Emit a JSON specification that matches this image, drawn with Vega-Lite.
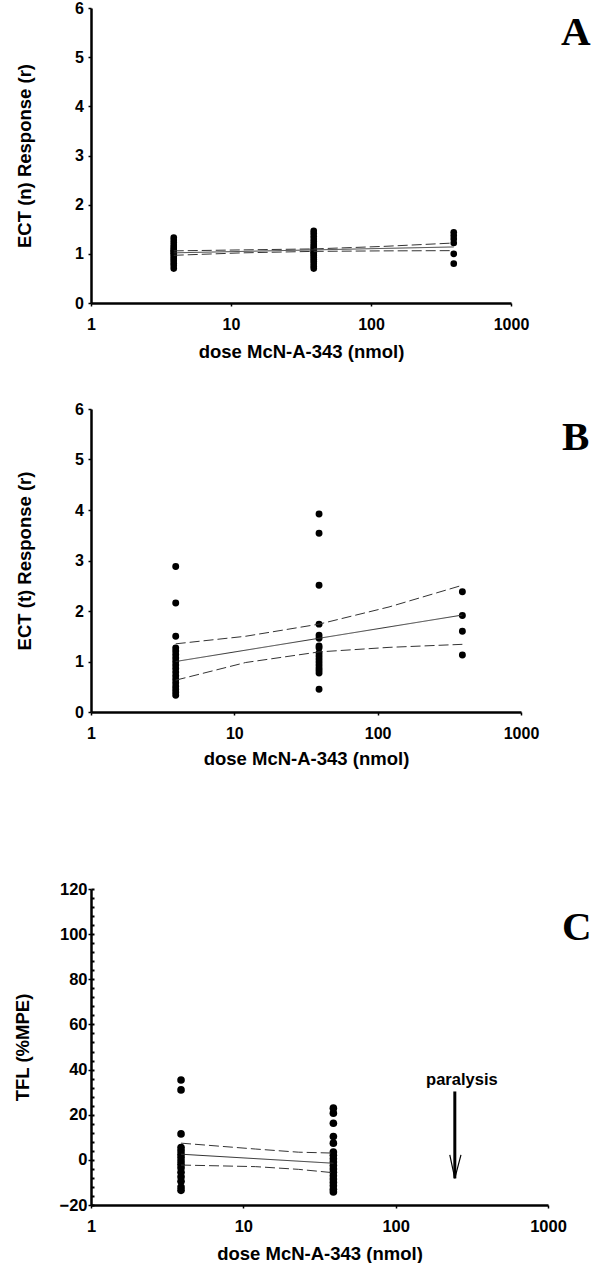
{
  "$schema": "https://vega.github.io/schema/vega-lite/v6.json",
  "padding": {"left": 13, "top": 0, "right": 0, "bottom": 0},
  "columns": 1,
  "spacing": 113,
  "align": "none",
  "concat": [
    {
      "columns": 1,
      "spacing": 40,
      "align": "none",
      "concat": [
        {
          "width": 420,
          "height": 295,
          "layer": [
            {
              "data": {"values": [
                {"dose": 3.9, "r": 0.70}, {"dose": 3.9, "r": 0.76}, {"dose": 3.9, "r": 0.81}, {"dose": 3.9, "r": 0.86},
                {"dose": 3.9, "r": 0.90}, {"dose": 3.9, "r": 0.94}, {"dose": 3.9, "r": 0.98}, {"dose": 3.9, "r": 1.01},
                {"dose": 3.9, "r": 1.04}, {"dose": 3.9, "r": 1.07}, {"dose": 3.9, "r": 1.10}, {"dose": 3.9, "r": 1.14},
                {"dose": 3.9, "r": 1.18}, {"dose": 3.9, "r": 1.23}, {"dose": 3.9, "r": 1.28}, {"dose": 3.9, "r": 1.33},
                {"dose": 39, "r": 0.70}, {"dose": 39, "r": 0.75}, {"dose": 39, "r": 0.80}, {"dose": 39, "r": 0.85},
                {"dose": 39, "r": 0.89}, {"dose": 39, "r": 0.93}, {"dose": 39, "r": 0.97}, {"dose": 39, "r": 1.00},
                {"dose": 39, "r": 1.03}, {"dose": 39, "r": 1.06}, {"dose": 39, "r": 1.09}, {"dose": 39, "r": 1.12},
                {"dose": 39, "r": 1.16}, {"dose": 39, "r": 1.20}, {"dose": 39, "r": 1.25}, {"dose": 39, "r": 1.30},
                {"dose": 39, "r": 1.36}, {"dose": 39, "r": 1.42}, {"dose": 39, "r": 1.47},
                {"dose": 390, "r": 0.80}, {"dose": 390, "r": 1.00}, {"dose": 390, "r": 1.22}, {"dose": 390, "r": 1.30},
                {"dose": 390, "r": 1.37}, {"dose": 390, "r": 1.44}
              ]},
              "mark": {"type": "circle", "size": 44, "color": "#000", "opacity": 1},
              "encoding": {
                "x": {"field": "dose", "type": "quantitative", "title": "dose McN-A-343 (nmol)",
                  "scale": {"type": "log", "domain": [1, 1000], "nice": false},
                  "axis": {"values": [1, 10, 100, 1000], "format": "d", "labelPadding": 10, "titlePadding": 10}},
                "y": {"field": "r", "type": "quantitative", "title": "ECT (n) Response (r)",
                  "scale": {"domain": [0, 6], "nice": false, "zero": false},
                  "axis": {"values": [0, 1, 2, 3, 4, 5, 6], "labelPadding": 4.5, "titlePadding": 40}}
              }
            },
            {
              "data": {"values": [
                {"curve": "fit", "kind": "fit", "dose": 3.9, "r": 1.02}, {"curve": "fit", "kind": "fit", "dose": 390, "r": 1.14},
                {"curve": "upper", "kind": "ci", "dose": 3.9, "r": 1.06}, {"curve": "upper", "kind": "ci", "dose": 12, "r": 1.08},
                {"curve": "upper", "kind": "ci", "dose": 39, "r": 1.10}, {"curve": "upper", "kind": "ci", "dose": 120, "r": 1.15},
                {"curve": "upper", "kind": "ci", "dose": 390, "r": 1.22},
                {"curve": "lower", "kind": "ci", "dose": 3.9, "r": 0.97}, {"curve": "lower", "kind": "ci", "dose": 12, "r": 1.02},
                {"curve": "lower", "kind": "ci", "dose": 39, "r": 1.05}, {"curve": "lower", "kind": "ci", "dose": 120, "r": 1.06},
                {"curve": "lower", "kind": "ci", "dose": 390, "r": 1.065}
              ]},
              "mark": {"type": "line", "strokeWidth": 1, "color": "#333"},
              "encoding": {
                "x": {"field": "dose", "type": "quantitative", "title": "dose McN-A-343 (nmol)", "scale": {"type": "log", "domain": [1, 1000], "nice": false}},
                "y": {"field": "r", "type": "quantitative", "title": "ECT (n) Response (r)", "scale": {"domain": [0, 6], "nice": false, "zero": false}},
                "detail": {"field": "curve"},
                "strokeDash": {"field": "kind", "type": "nominal", "scale": {"domain": ["fit", "ci"], "range": [[1, 0], [10, 4]]}, "legend": null}
              }
            },
            {
              "data": {"values": [{"dose": 2904, "r": 5.25, "label": "A"}]},
              "mark": {"type": "text", "font": "Liberation Serif", "fontWeight": "bold", "fontSize": 41, "align": "center", "baseline": "alphabetic", "color": "#000"},
              "encoding": {
                "x": {"field": "dose", "type": "quantitative", "title": "dose McN-A-343 (nmol)", "scale": {"type": "log", "domain": [1, 1000], "nice": false}},
                "y": {"field": "r", "type": "quantitative", "title": "ECT (n) Response (r)", "scale": {"domain": [0, 6], "nice": false, "zero": false}},
                "text": {"field": "label"}
              }
            }
          ]
        },
        {
          "width": 430,
          "height": 303,
          "layer": [
            {
              "data": {"values": [
                {"dose": 3.9, "r": 2.88}, {"dose": 3.9, "r": 2.16}, {"dose": 3.9, "r": 1.50}, {"dose": 3.9, "r": 1.27},
                {"dose": 3.9, "r": 1.21}, {"dose": 3.9, "r": 1.14}, {"dose": 3.9, "r": 1.07}, {"dose": 3.9, "r": 1.00},
                {"dose": 3.9, "r": 0.93}, {"dose": 3.9, "r": 0.86}, {"dose": 3.9, "r": 0.79}, {"dose": 3.9, "r": 0.72},
                {"dose": 3.9, "r": 0.65}, {"dose": 3.9, "r": 0.58}, {"dose": 3.9, "r": 0.51}, {"dose": 3.9, "r": 0.45},
                {"dose": 3.9, "r": 0.39}, {"dose": 3.9, "r": 0.33},
                {"dose": 39, "r": 3.92}, {"dose": 39, "r": 3.54}, {"dose": 39, "r": 2.51}, {"dose": 39, "r": 1.74},
                {"dose": 39, "r": 1.52}, {"dose": 39, "r": 1.46}, {"dose": 39, "r": 1.31}, {"dose": 39, "r": 1.27},
                {"dose": 39, "r": 1.17}, {"dose": 39, "r": 1.11}, {"dose": 39, "r": 1.05}, {"dose": 39, "r": 0.99},
                {"dose": 39, "r": 0.93}, {"dose": 39, "r": 0.87}, {"dose": 39, "r": 0.82}, {"dose": 39, "r": 0.77},
                {"dose": 39, "r": 0.45},
                {"dose": 390, "r": 2.38}, {"dose": 390, "r": 1.91}, {"dose": 390, "r": 1.60}, {"dose": 390, "r": 1.13}
              ]},
              "mark": {"type": "circle", "size": 48, "color": "#000", "opacity": 1},
              "encoding": {
                "x": {"field": "dose", "type": "quantitative", "title": "dose McN-A-343 (nmol)",
                  "scale": {"type": "log", "domain": [1, 1000], "nice": false},
                  "axis": {"values": [1, 10, 100, 1000], "format": "d", "labelPadding": 10, "titlePadding": 8}},
                "y": {"field": "r", "type": "quantitative", "title": "ECT (t) Response (r)",
                  "scale": {"domain": [0, 6], "nice": false, "zero": false},
                  "axis": {"values": [0, 1, 2, 3, 4, 5, 6], "labelPadding": 4.5, "titlePadding": 40}}
              }
            },
            {
              "data": {"values": [
                {"curve": "fit", "kind": "fit", "dose": 3.9, "r": 1.0}, {"curve": "fit", "kind": "fit", "dose": 390, "r": 1.92},
                {"curve": "upper", "kind": "ci", "dose": 3.9, "r": 1.35}, {"curve": "upper", "kind": "ci", "dose": 12, "r": 1.50},
                {"curve": "upper", "kind": "ci", "dose": 39, "r": 1.74}, {"curve": "upper", "kind": "ci", "dose": 120, "r": 2.08},
                {"curve": "upper", "kind": "ci", "dose": 390, "r": 2.51},
                {"curve": "lower", "kind": "ci", "dose": 3.9, "r": 0.63}, {"curve": "lower", "kind": "ci", "dose": 12, "r": 0.98},
                {"curve": "lower", "kind": "ci", "dose": 39, "r": 1.19}, {"curve": "lower", "kind": "ci", "dose": 120, "r": 1.28},
                {"curve": "lower", "kind": "ci", "dose": 390, "r": 1.34}
              ]},
              "mark": {"type": "line", "strokeWidth": 1, "color": "#333"},
              "encoding": {
                "x": {"field": "dose", "type": "quantitative", "title": "dose McN-A-343 (nmol)", "scale": {"type": "log", "domain": [1, 1000], "nice": false}},
                "y": {"field": "r", "type": "quantitative", "title": "ECT (t) Response (r)", "scale": {"domain": [0, 6], "nice": false, "zero": false}},
                "detail": {"field": "curve"},
                "strokeDash": {"field": "kind", "type": "nominal", "scale": {"domain": ["fit", "ci"], "range": [[1, 0], [12, 5]]}, "legend": null}
              }
            },
            {
              "data": {"values": [{"dose": 2410, "r": 5.19, "label": "B"}]},
              "mark": {"type": "text", "font": "Liberation Serif", "fontWeight": "bold", "fontSize": 41, "align": "center", "baseline": "alphabetic", "color": "#000"},
              "encoding": {
                "x": {"field": "dose", "type": "quantitative", "title": "dose McN-A-343 (nmol)", "scale": {"type": "log", "domain": [1, 1000], "nice": false}},
                "y": {"field": "r", "type": "quantitative", "title": "ECT (t) Response (r)", "scale": {"domain": [0, 6], "nice": false, "zero": false}},
                "text": {"field": "label"}
              }
            }
          ]
        }
      ]
    },
    {
      "width": 457,
      "height": 316,
      "resolve": {"axis": {"y": "independent"}},
      "layer": [
        {
          "data": {"values": [
            {"dose": 3.9, "mpe": 35.4}, {"dose": 3.9, "mpe": 31.0}, {"dose": 3.9, "mpe": 11.5}, {"dose": 3.9, "mpe": 5.5},
            {"dose": 3.9, "mpe": 4.0}, {"dose": 3.9, "mpe": 2.5}, {"dose": 3.9, "mpe": 1.0}, {"dose": 3.9, "mpe": -0.5},
            {"dose": 3.9, "mpe": -2.0}, {"dose": 3.9, "mpe": -3.5}, {"dose": 3.9, "mpe": -5.5}, {"dose": 3.9, "mpe": -7.5},
            {"dose": 3.9, "mpe": -9.5}, {"dose": 3.9, "mpe": -12.0}, {"dose": 3.9, "mpe": -13.5},
            {"dose": 39, "mpe": 22.9}, {"dose": 39, "mpe": 20.7}, {"dose": 39, "mpe": 16.2}, {"dose": 39, "mpe": 10.3},
            {"dose": 39, "mpe": 7.4}, {"dose": 39, "mpe": 3.5}, {"dose": 39, "mpe": 2.0}, {"dose": 39, "mpe": 0.5},
            {"dose": 39, "mpe": -1.0}, {"dose": 39, "mpe": -2.5}, {"dose": 39, "mpe": -4.0}, {"dose": 39, "mpe": -5.5},
            {"dose": 39, "mpe": -7.0}, {"dose": 39, "mpe": -8.5}, {"dose": 39, "mpe": -10.0}, {"dose": 39, "mpe": -11.5},
            {"dose": 39, "mpe": -13.0}, {"dose": 39, "mpe": -14.2}
          ]},
          "mark": {"type": "circle", "size": 58, "color": "#000", "opacity": 1},
          "encoding": {
            "x": {"field": "dose", "type": "quantitative", "title": "dose McN-A-343 (nmol)",
              "scale": {"type": "log", "domain": [1, 1000], "nice": false},
              "axis": {"values": [1, 10, 100, 1000], "format": "d", "labelPadding": 10, "labelFontSize": 16.5, "titlePadding": 10}},
            "y": {"field": "mpe", "type": "quantitative", "title": "TFL (%MPE)",
              "scale": {"domain": [-20, 120], "nice": false, "zero": false},
              "axis": {"values": [-20, 0, 20, 40, 60, 80, 100, 120], "orient": "left", "labelPadding": 1, "labelFontSize": 16.5, "titlePadding": 26.5}}
          }
        },
        {
          "data": {"values": [
            {"curve": "fit", "kind": "fit", "dose": 3.9, "mpe": 2.5}, {"curve": "fit", "kind": "fit", "dose": 39, "mpe": -1.5},
            {"curve": "upper", "kind": "ci", "dose": 3.9, "mpe": 7.4}, {"curve": "upper", "kind": "ci", "dose": 12, "mpe": 4.8},
            {"curve": "upper", "kind": "ci", "dose": 23, "mpe": 3.4}, {"curve": "upper", "kind": "ci", "dose": 39, "mpe": 3.0},
            {"curve": "lower", "kind": "ci", "dose": 3.9, "mpe": -2.3}, {"curve": "lower", "kind": "ci", "dose": 12, "mpe": -3.0},
            {"curve": "lower", "kind": "ci", "dose": 23, "mpe": -4.2}, {"curve": "lower", "kind": "ci", "dose": 39, "mpe": -5.7}
          ]},
          "mark": {"type": "line", "strokeWidth": 1, "color": "#333"},
          "encoding": {
            "x": {"field": "dose", "type": "quantitative", "title": "dose McN-A-343 (nmol)", "scale": {"type": "log", "domain": [1, 1000], "nice": false}},
            "y": {"field": "mpe", "type": "quantitative", "scale": {"domain": [-20, 120], "nice": false, "zero": false},
              "axis": {"orient": "left", "values": [-20, -16, -12, -8, -4, 0, 4, 8, 12, 16, 20, 24, 28, 32, 36, 40, 44, 48, 52, 56, 60, 64, 68, 72, 76, 80, 84, 88, 92, 96, 100, 104, 108, 112, 116, 120],
                "labels": false, "domain": false, "title": null, "tickSize": -3, "tickWidth": 2}},
            "detail": {"field": "curve"},
            "strokeDash": {"field": "kind", "type": "nominal", "scale": {"domain": ["fit", "ci"], "range": [[1, 0], [12, 5]]}, "legend": null}
          }
        },
        {
          "data": {"values": [{"dose": 244.5, "mpe": 30.3, "mpe2": -8.2}]},
          "mark": {"type": "rule", "strokeWidth": 3, "color": "#000"},
          "encoding": {
            "x": {"field": "dose", "type": "quantitative", "scale": {"type": "log", "domain": [1, 1000], "nice": false}},
            "y": {"field": "mpe", "type": "quantitative", "scale": {"domain": [-20, 120], "nice": false, "zero": false}, "axis": null},
            "y2": {"field": "mpe2"}
          }
        },
        {
          "data": {"values": [{"dose": 226.6, "mpe": 2.2}, {"dose": 244.5, "mpe": -8.2}, {"dose": 268.3, "mpe": 2.2}]},
          "mark": {"type": "line", "strokeWidth": 1.2, "color": "#000"},
          "encoding": {
            "x": {"field": "dose", "type": "quantitative", "scale": {"type": "log", "domain": [1, 1000], "nice": false}},
            "y": {"field": "mpe", "type": "quantitative", "scale": {"domain": [-20, 120], "nice": false, "zero": false}, "axis": null}
          }
        },
        {
          "data": {"values": [{"dose": 272, "mpe": 33.2, "label": "paralysis"}]},
          "mark": {"type": "text", "align": "center", "baseline": "alphabetic", "color": "#000", "font": "Liberation Sans", "fontWeight": "bold", "fontSize": 16.5},
          "encoding": {
            "x": {"field": "dose", "type": "quantitative", "scale": {"type": "log", "domain": [1, 1000], "nice": false}},
            "y": {"field": "mpe", "type": "quantitative", "scale": {"domain": [-20, 120], "nice": false, "zero": false}, "axis": null},
            "text": {"field": "label"}
          }
        },
        {
          "data": {"values": [{"dose": 1545, "mpe": 97.5, "label": "C"}]},
          "mark": {"type": "text", "align": "center", "baseline": "alphabetic", "color": "#000", "font": "Liberation Serif", "fontWeight": "bold", "fontSize": 41},
          "encoding": {
            "x": {"field": "dose", "type": "quantitative", "scale": {"type": "log", "domain": [1, 1000], "nice": false}},
            "y": {"field": "mpe", "type": "quantitative", "scale": {"domain": [-20, 120], "nice": false, "zero": false}, "axis": null},
            "text": {"field": "label"}
          }
        }
      ]
    }
  ],
  "config": {
    "view": {"stroke": null},
    "axis": {
      "grid": false,
      "domainColor": "#000",
      "domainWidth": 2.5,
      "tickColor": "#000",
      "tickWidth": 1.5,
      "tickSize": 3,
      "labelFont": "Liberation Sans",
      "labelFontWeight": "bold",
      "labelFontSize": 16,
      "labelColor": "#000",
      "labelFlush": false,
      "titleFont": "Liberation Sans",
      "titleFontWeight": "bold",
      "titleFontSize": 18.5,
      "titleColor": "#000"
    }
  }
}
